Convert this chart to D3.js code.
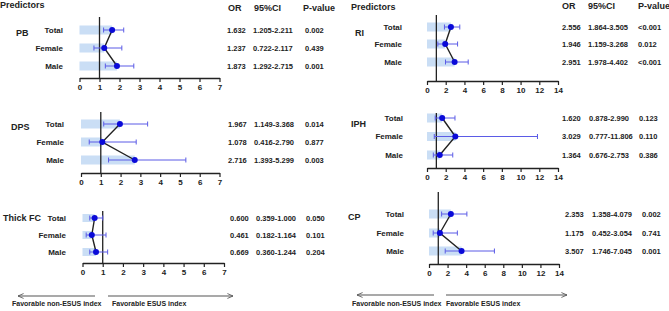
<!DOCTYPE html>
<html lang="en">
<head>
<meta charset="UTF-8">
<title>Forest plot - ESUS predictors</title>
<style>
    body { margin: 0; background: #fff; }
    svg text { font-family: "Liberation Sans", Arial, sans-serif; fill: #222; }
    .tick text { font-weight: bold; font-size: 8px; }
</style>
</head>
<body>
<div id="chart"></div>
<script src="https://d3js.org/d3.v7.min.js"></script>
<script>
    // 数据
    const groups = ['Total', 'Female', 'Male'];
    const predictors = ['PB', 'DPS', 'Thick FC', 'RI', 'IPH', 'CP'];
    const orVals = [
        [1.632, 1.237, 1.873],
        [1.967, 1.078, 2.716],
        [0.600, 0.461, 0.669],
        [2.556, 1.946, 2.951],
        [1.620, 3.029, 1.364],
        [2.353, 1.175, 3.507]
    ];
    const ciLow = [
        [1.205, 0.722, 1.292],
        [1.149, 0.416, 1.393],
        [0.359, 0.182, 0.360],
        [1.864, 1.159, 1.978],
        [0.878, 0.777, 0.676],
        [1.358, 0.452, 1.746]
    ];
    const ciHigh = [
        [2.211, 2.117, 2.715],
        [3.368, 2.790, 5.299],
        [1.000, 1.164, 1.244],
        [3.505, 3.268, 4.402],
        [2.990, 11.806, 2.753],
        [4.079, 3.054, 7.045]
    ];
    const pVals = [
        ['0.002', '0.439', '0.001'],
        ['0.014', '0.877', '0.003'],
        ['0.050', '0.101', '0.204'],
        ['<0.001', '0.012', '<0.001'],
        ['0.123', '0.110', '0.386'],
        ['0.002', '0.741', '0.001']
    ];
    const leftTicks = [0, 1, 2, 3, 4, 5, 6, 7];
    const rightTicks = [0, 2, 4, 6, 8, 10, 12, 14];
    const headers = ['OR', '95%CI', 'P-value'];
    const arrowLabels = ['Favorable non-ESUS index', 'Favorable ESUS index'];

    // 每个面板的位置
    const layout = [
        { x: [79.5, 219.5], rows: [30, 48, 66], axisY: 78, top: 17, lab: [16, 33], rowR: 63, cols: [227, 253, 305], ticks: leftTicks },
        { x: [81, 219.5], rows: [124, 142, 160], axisY: 173, top: 112, lab: [11, 127], rowR: 64, cols: [228, 254, 305], ticks: leftTicks },
        { x: [82.5, 224], rows: [218, 235, 252], axisY: 263, top: 211, lab: [3, 218], rowR: 66, cols: [230, 256, 306], ticks: leftTicks },
        { x: [427, 558], rows: [27, 44, 62], axisY: 81, top: 15, lab: [355, 33], rowR: 402, cols: [562, 588, 638], ticks: rightTicks },
        { x: [427, 558], rows: [118, 136.5, 155], axisY: 168, top: 113, lab: [351, 124], rowR: 403, cols: [562, 589, 639], ticks: rightTicks },
        { x: [429, 559], rows: [214, 233, 251], axisY: 264, top: 192, lab: [348, 217], rowR: 404, cols: [565, 592, 642], ticks: rightTicks }
    ];

    const svg = d3.select('#chart').append('svg')
        .attr('width', 669)
        .attr('height', 311);

    const defs = svg.append('defs');
    defs.append('marker')
        .attr('id', 'arrow')
        .attr('viewBox', '0 0 10 10')
        .attr('refX', 9).attr('refY', 5)
        .attr('markerWidth', 7).attr('markerHeight', 7)
        .attr('markerUnits', 'userSpaceOnUse')
        .attr('orient', 'auto-start-reverse')
        .append('path')
        .attr('d', 'M1,1.5 L9,5 L1,8.5')
        .attr('fill', 'none')
        .attr('stroke', '#555')
        .attr('stroke-width', 1.2);

    // 表头
    const headerPos = [
        { px: 0, py: 5, cols: [228, 254, 303], cy: 8 },
        { px: 351, py: 7, cols: [562, 588, 638], cy: 6 }
    ];
    headerPos.forEach(h => {
        svg.append('text').text('Predictors')
            .attr('x', h.px).attr('y', h.py).attr('dy', '0.35em')
            .attr('font-size', 9).attr('font-weight', 'bold');
        svg.selectAll(null).data(headers).join('text')
            .text(d => d)
            .attr('x', (d, i) => h.cols[i]).attr('y', h.cy).attr('dy', '0.35em')
            .attr('font-size', 9).attr('font-weight', 'bold');
    });

    predictors.forEach((name, p) => {
        const L = layout[p];
        const xMax = L.ticks[L.ticks.length - 1];
        const xScale = d3.scaleLinear().domain([0, xMax]).range(L.x);
        const yScale = d3.scaleOrdinal().domain(groups).range(L.rows);
        const g = svg.append('g').attr('class', 'panel');

        const rows = groups.map((grp, i) => ({
            grp, or: orVals[p][i], lo: ciLow[p][i], hi: ciHigh[p][i], pv: pVals[p][i]
        }));
        const barH = p === 2 ? 8 : 9;

        // 浅蓝色条
        g.selectAll('.bar').data(rows).join('rect')
            .attr('class', 'bar')
            .attr('x', xScale(0))
            .attr('y', d => yScale(d.grp) - barH / 2)
            .attr('width', d => xScale(d.or) - xScale(0))
            .attr('height', barH)
            .attr('fill', '#cadef5');

        // 坐标轴
        const xAxis = d3.axisBottom(xScale)
            .tickValues(L.ticks)
            .tickFormat(d3.format('d'))
            .tickSize(4)
            .tickSizeOuter(0)
            .tickPadding(2);
        const axisG = g.append('g')
            .attr('transform', `translate(0, ${L.axisY})`)
            .call(xAxis);
        axisG.select('.domain').attr('stroke', '#222').attr('stroke-width', 1.3);
        axisG.selectAll('.tick line').attr('stroke', '#222').attr('stroke-width', 1.2);
        axisG.selectAll('.tick text').attr('fill', '#222');

        // OR = 1 参考线
        g.append('line')
            .attr('x1', xScale(1)).attr('x2', xScale(1))
            .attr('y1', L.top).attr('y2', L.axisY)
            .attr('stroke', '#222').attr('stroke-width', 1.3);

        // 误差线
        const ci = g.selectAll('.ci').data(rows).join('g').attr('class', 'ci')
            .attr('stroke', '#5b5be6').attr('stroke-width', 1);
        ci.append('line')
            .attr('x1', d => xScale(d.lo)).attr('x2', d => xScale(d.hi))
            .attr('y1', d => yScale(d.grp)).attr('y2', d => yScale(d.grp));
        ci.append('line')
            .attr('x1', d => xScale(d.lo)).attr('x2', d => xScale(d.lo))
            .attr('y1', d => yScale(d.grp) - 2.5).attr('y2', d => yScale(d.grp) + 2.5);
        ci.append('line')
            .attr('x1', d => xScale(d.hi)).attr('x2', d => xScale(d.hi))
            .attr('y1', d => yScale(d.grp) - 2.5).attr('y2', d => yScale(d.grp) + 2.5);

        // 连接线
        g.append('path')
            .datum(rows)
            .attr('d', d3.line().x(d => xScale(d.or)).y(d => yScale(d.grp)))
            .attr('fill', 'none')
            .attr('stroke', '#222')
            .attr('stroke-width', 1.4);

        // 点
        g.selectAll('.dot').data(rows).join('circle')
            .attr('class', 'dot')
            .attr('cx', d => xScale(d.or))
            .attr('cy', d => yScale(d.grp))
            .attr('r', 3)
            .attr('fill', '#0a0ad8');

        // 标签
        g.append('text').text(name)
            .attr('x', L.lab[0]).attr('y', L.lab[1]).attr('dy', '0.35em')
            .attr('font-size', 9).attr('font-weight', 'bold');
        g.selectAll('.row-label').data(rows).join('text')
            .attr('class', 'row-label')
            .text(d => d.grp)
            .attr('x', L.rowR).attr('y', d => yScale(d.grp)).attr('dy', '0.35em')
            .attr('text-anchor', 'end')
            .attr('font-size', 8).attr('font-weight', 'bold');

        // 表格
        const cells = [
            d => d.or.toFixed(3),
            d => d.lo.toFixed(3) + '-' + d.hi.toFixed(3),
            d => d.pv
        ];
        cells.forEach((fn, c) => {
            g.selectAll('.cell' + c).data(rows).join('text')
                .attr('class', 'cell' + c)
                .text(fn)
                .attr('x', L.cols[c]).attr('y', d => yScale(d.grp)).attr('dy', '0.35em')
                .attr('font-size', 7.5).attr('font-weight', 'bold');
        });
    });

    // 底部箭头
    const arrows = [
        { y: 296, l: [18, 95], r: [108, 233], ty: 306, tx: [12, 112] },
        { y: 295, l: [357, 434], r: [446, 567], ty: 306, tx: [352, 446] }
    ];
    arrows.forEach(a => {
        svg.append('line')
            .attr('x1', a.l[1]).attr('x2', a.l[0]).attr('y1', a.y).attr('y2', a.y)
            .attr('stroke', '#555').attr('stroke-width', 1.1)
            .attr('marker-end', 'url(#arrow)');
        svg.append('line')
            .attr('x1', a.r[0]).attr('x2', a.r[1]).attr('y1', a.y).attr('y2', a.y)
            .attr('stroke', '#555').attr('stroke-width', 1.1)
            .attr('marker-end', 'url(#arrow)');
        svg.selectAll(null).data(arrowLabels).join('text')
            .text(d => d)
            .attr('x', (d, i) => a.tx[i]).attr('y', a.ty)
            .attr('font-size', 7).attr('font-weight', 'bold');
    });
</script>
</body>
</html>
